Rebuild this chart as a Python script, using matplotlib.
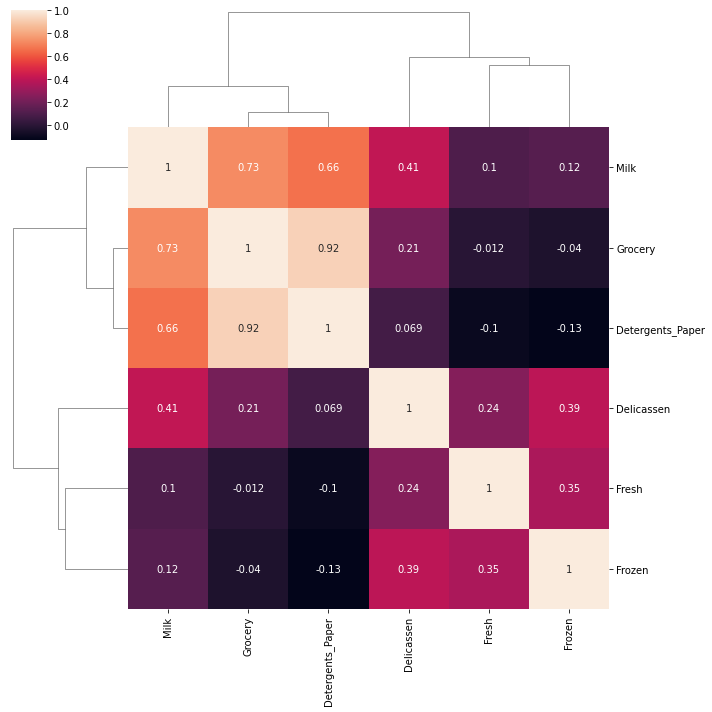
import numpy as np
import pandas as pd
import seaborn as sns
import matplotlib
matplotlib.use("Agg")
import matplotlib.pyplot as plt

cols = ["Fresh", "Milk", "Grocery", "Frozen", "Detergents_Paper", "Delicassen"]
corr_values = [
    [1.0, 0.100510, -0.011854, 0.345881, -0.101953, 0.244690],
    [0.100510, 1.0, 0.728335, 0.123994, 0.661816, 0.406368],
    [-0.011854, 0.728335, 1.0, -0.040193, 0.924641, 0.205497],
    [0.345881, 0.123994, -0.040193, 1.0, -0.131525, 0.390947],
    [-0.101953, 0.661816, 0.924641, -0.131525, 1.0, 0.069291],
    [0.244690, 0.406368, 0.205497, 0.390947, 0.069291, 1.0],
]
corr = pd.DataFrame(corr_values, index=cols, columns=cols)

g = sns.clustermap(corr, annot=True, figsize=(10, 10))
g.savefig("out.png", dpi=72, bbox_inches="tight")
